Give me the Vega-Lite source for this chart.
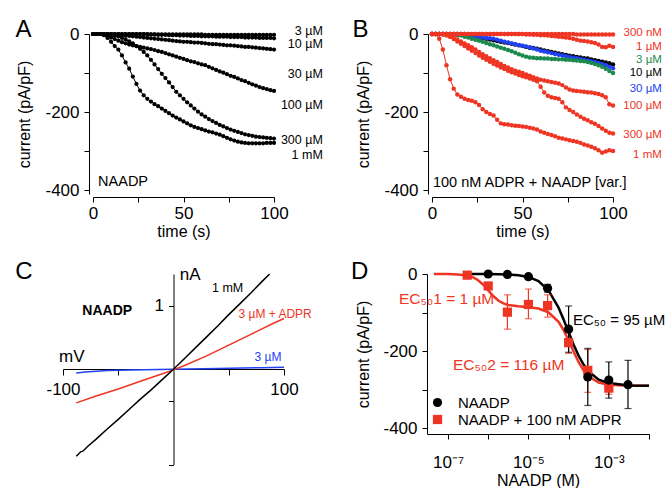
{
"$schema": "https://vega.github.io/schema/vega-lite/v6.json",
"padding": {"left": 15, "top": 18, "right": 0, "bottom": 0},
"background": "white",
"columns": 2,
"spacing": {"row": 49, "column": 142},
"bounds": "flush",
"resolve": {"scale": {"color": "independent", "shape": "independent"}, "legend": {"color": "independent", "shape": "independent"}},
"datasets": {
"a": [
{"s":"3","t":0,"v":0},{"s":"3","t":2,"v":0},{"s":"3","t":4,"v":0},{"s":"3","t":6,"v":0},{"s":"3","t":8,"v":0},{"s":"3","t":10,"v":0},{"s":"3","t":12,"v":0},{"s":"3","t":14,"v":0},{"s":"3","t":16,"v":0},{"s":"3","t":18,"v":0},{"s":"3","t":20,"v":0},{"s":"3","t":22,"v":0},{"s":"3","t":24,"v":0},{"s":"3","t":26,"v":0},{"s":"3","t":28,"v":0},{"s":"3","t":30,"v":0},{"s":"3","t":32,"v":-1},{"s":"3","t":34,"v":-1},{"s":"3","t":36,"v":-1},{"s":"3","t":38,"v":-1},{"s":"3","t":40,"v":-1},{"s":"3","t":42,"v":-1},{"s":"3","t":44,"v":-1},{"s":"3","t":46,"v":-1},{"s":"3","t":48,"v":-1},{"s":"3","t":50,"v":-1},{"s":"3","t":52,"v":-1},{"s":"3","t":54,"v":-1},{"s":"3","t":56,"v":-1},{"s":"3","t":58,"v":-1},{"s":"3","t":60,"v":-1},{"s":"3","t":62,"v":-2},{"s":"3","t":64,"v":-2},{"s":"3","t":66,"v":-2},{"s":"3","t":68,"v":-2},{"s":"3","t":70,"v":-2},{"s":"3","t":72,"v":-2},{"s":"3","t":74,"v":-2},{"s":"3","t":76,"v":-2},{"s":"3","t":78,"v":-2},{"s":"3","t":80,"v":-2},{"s":"3","t":82,"v":-2},{"s":"3","t":84,"v":-2},{"s":"3","t":86,"v":-2},{"s":"3","t":88,"v":-2},{"s":"3","t":90,"v":-2},{"s":"3","t":92,"v":-2},{"s":"3","t":94,"v":-2},{"s":"3","t":96,"v":-2},{"s":"3","t":98,"v":-2},{"s":"3","t":100,"v":-2},
{"s":"10","t":0,"v":0},{"s":"10","t":2,"v":0},{"s":"10","t":4,"v":0},{"s":"10","t":6,"v":0},{"s":"10","t":8,"v":0},{"s":"10","t":10,"v":0},{"s":"10","t":12,"v":0},{"s":"10","t":14,"v":0},{"s":"10","t":16,"v":0},{"s":"10","t":18,"v":0},{"s":"10","t":20,"v":0},{"s":"10","t":22,"v":0},{"s":"10","t":24,"v":0},{"s":"10","t":26,"v":0},{"s":"10","t":28,"v":0},{"s":"10","t":30,"v":-1},{"s":"10","t":32,"v":-1},{"s":"10","t":34,"v":-1},{"s":"10","t":36,"v":-2},{"s":"10","t":38,"v":-2},{"s":"10","t":40,"v":-2},{"s":"10","t":42,"v":-3},{"s":"10","t":44,"v":-3},{"s":"10","t":46,"v":-3},{"s":"10","t":48,"v":-4},{"s":"10","t":50,"v":-4},{"s":"10","t":52,"v":-4},{"s":"10","t":54,"v":-5},{"s":"10","t":56,"v":-5},{"s":"10","t":58,"v":-5},{"s":"10","t":60,"v":-6},{"s":"10","t":62,"v":-6},{"s":"10","t":64,"v":-6},{"s":"10","t":66,"v":-6},{"s":"10","t":68,"v":-7},{"s":"10","t":70,"v":-7},{"s":"10","t":72,"v":-7},{"s":"10","t":74,"v":-7},{"s":"10","t":76,"v":-8},{"s":"10","t":78,"v":-8},{"s":"10","t":80,"v":-8},{"s":"10","t":82,"v":-8},{"s":"10","t":84,"v":-9},{"s":"10","t":86,"v":-9},{"s":"10","t":88,"v":-9},{"s":"10","t":90,"v":-9},{"s":"10","t":92,"v":-10},{"s":"10","t":94,"v":-10},{"s":"10","t":96,"v":-10},{"s":"10","t":98,"v":-10},{"s":"10","t":100,"v":-11},
{"s":"30","t":0,"v":0},{"s":"30","t":2,"v":0},{"s":"30","t":4,"v":0},{"s":"30","t":6,"v":0},{"s":"30","t":8,"v":0},{"s":"30","t":10,"v":0},{"s":"30","t":12,"v":-1},{"s":"30","t":14,"v":-2},{"s":"30","t":16,"v":-3},{"s":"30","t":18,"v":-4},{"s":"30","t":20,"v":-5},{"s":"30","t":22,"v":-6},{"s":"30","t":24,"v":-7},{"s":"30","t":26,"v":-8},{"s":"30","t":28,"v":-9},{"s":"30","t":30,"v":-10},{"s":"30","t":32,"v":-11},{"s":"30","t":34,"v":-12},{"s":"30","t":36,"v":-13},{"s":"30","t":38,"v":-14},{"s":"30","t":40,"v":-15},{"s":"30","t":42,"v":-16},{"s":"30","t":44,"v":-17},{"s":"30","t":46,"v":-18},{"s":"30","t":48,"v":-19},{"s":"30","t":50,"v":-20},{"s":"30","t":52,"v":-20},{"s":"30","t":54,"v":-21},{"s":"30","t":56,"v":-22},{"s":"30","t":58,"v":-22},{"s":"30","t":60,"v":-23},{"s":"30","t":62,"v":-24},{"s":"30","t":64,"v":-25},{"s":"30","t":66,"v":-26},{"s":"30","t":68,"v":-26},{"s":"30","t":70,"v":-27},{"s":"30","t":72,"v":-28},{"s":"30","t":74,"v":-29},{"s":"30","t":76,"v":-29},{"s":"30","t":78,"v":-30},{"s":"30","t":80,"v":-31},{"s":"30","t":82,"v":-32},{"s":"30","t":84,"v":-33},{"s":"30","t":86,"v":-33},{"s":"30","t":88,"v":-34},{"s":"30","t":90,"v":-35},{"s":"30","t":92,"v":-36},{"s":"30","t":94,"v":-37},{"s":"30","t":96,"v":-38},{"s":"30","t":98,"v":-39},{"s":"30","t":100,"v":-40},
{"s":"100","t":0,"v":0},{"s":"100","t":2,"v":0},{"s":"100","t":4,"v":0},{"s":"100","t":6,"v":-2},{"s":"100","t":8,"v":-5},{"s":"100","t":10,"v":-9},{"s":"100","t":12,"v":-13},{"s":"100","t":14,"v":-17},{"s":"100","t":16,"v":-21},{"s":"100","t":18,"v":-24},{"s":"100","t":20,"v":-27},{"s":"100","t":22,"v":-29},{"s":"100","t":24,"v":-31},{"s":"100","t":26,"v":-33},{"s":"100","t":28,"v":-35},{"s":"100","t":30,"v":-37},{"s":"100","t":32,"v":-39},{"s":"100","t":34,"v":-41},{"s":"100","t":36,"v":-44},{"s":"100","t":38,"v":-46},{"s":"100","t":40,"v":-49},{"s":"100","t":42,"v":-52},{"s":"100","t":44,"v":-55},{"s":"100","t":46,"v":-58},{"s":"100","t":48,"v":-61},{"s":"100","t":50,"v":-64},{"s":"100","t":52,"v":-67},{"s":"100","t":54,"v":-70},{"s":"100","t":56,"v":-72},{"s":"100","t":58,"v":-75},{"s":"100","t":60,"v":-78},{"s":"100","t":62,"v":-80},{"s":"100","t":64,"v":-84},{"s":"100","t":66,"v":-88},{"s":"100","t":68,"v":-92},{"s":"100","t":70,"v":-96},{"s":"100","t":72,"v":-99},{"s":"100","t":74,"v":-103},{"s":"100","t":76,"v":-107},{"s":"100","t":78,"v":-110},{"s":"100","t":80,"v":-114},{"s":"100","t":82,"v":-118},{"s":"100","t":84,"v":-121},{"s":"100","t":86,"v":-125},{"s":"100","t":88,"v":-129},{"s":"100","t":90,"v":-132},{"s":"100","t":92,"v":-136},{"s":"100","t":94,"v":-139},{"s":"100","t":96,"v":-141},{"s":"100","t":98,"v":-144},{"s":"100","t":100,"v":-146},
{"s":"300","t":0,"v":0},{"s":"300","t":2,"v":0},{"s":"300","t":4,"v":0},{"s":"300","t":6,"v":-1},{"s":"300","t":8,"v":-2},{"s":"300","t":10,"v":-3},{"s":"300","t":12,"v":-4},{"s":"300","t":14,"v":-6},{"s":"300","t":16,"v":-10},{"s":"300","t":18,"v":-14},{"s":"300","t":20,"v":-19},{"s":"300","t":22,"v":-24},{"s":"300","t":24,"v":-31},{"s":"300","t":26,"v":-38},{"s":"300","t":28,"v":-46},{"s":"300","t":30,"v":-55},{"s":"300","t":32,"v":-66},{"s":"300","t":34,"v":-78},{"s":"300","t":36,"v":-90},{"s":"300","t":38,"v":-102},{"s":"300","t":40,"v":-113},{"s":"300","t":42,"v":-124},{"s":"300","t":44,"v":-136},{"s":"300","t":46,"v":-148},{"s":"300","t":48,"v":-157},{"s":"300","t":50,"v":-166},{"s":"300","t":52,"v":-175},{"s":"300","t":54,"v":-183},{"s":"300","t":56,"v":-191},{"s":"300","t":58,"v":-199},{"s":"300","t":60,"v":-206},{"s":"300","t":62,"v":-212},{"s":"300","t":64,"v":-218},{"s":"300","t":66,"v":-223},{"s":"300","t":68,"v":-228},{"s":"300","t":70,"v":-233},{"s":"300","t":72,"v":-237},{"s":"300","t":74,"v":-241},{"s":"300","t":76,"v":-245},{"s":"300","t":78,"v":-248},{"s":"300","t":80,"v":-251},{"s":"300","t":82,"v":-254},{"s":"300","t":84,"v":-257},{"s":"300","t":86,"v":-259},{"s":"300","t":88,"v":-261},{"s":"300","t":90,"v":-263},{"s":"300","t":92,"v":-264},{"s":"300","t":94,"v":-265},{"s":"300","t":96,"v":-266},{"s":"300","t":98,"v":-267},{"s":"300","t":100,"v":-268},
{"s":"1000","t":0,"v":0},{"s":"1000","t":2,"v":0},{"s":"1000","t":4,"v":0},{"s":"1000","t":6,"v":-3},{"s":"1000","t":8,"v":-10},{"s":"1000","t":10,"v":-20},{"s":"1000","t":12,"v":-31},{"s":"1000","t":14,"v":-40},{"s":"1000","t":16,"v":-55},{"s":"1000","t":18,"v":-73},{"s":"1000","t":20,"v":-89},{"s":"1000","t":22,"v":-109},{"s":"1000","t":24,"v":-128},{"s":"1000","t":26,"v":-145},{"s":"1000","t":28,"v":-157},{"s":"1000","t":30,"v":-166},{"s":"1000","t":32,"v":-173},{"s":"1000","t":34,"v":-180},{"s":"1000","t":36,"v":-185},{"s":"1000","t":38,"v":-191},{"s":"1000","t":40,"v":-197},{"s":"1000","t":42,"v":-203},{"s":"1000","t":44,"v":-209},{"s":"1000","t":46,"v":-214},{"s":"1000","t":48,"v":-219},{"s":"1000","t":50,"v":-224},{"s":"1000","t":52,"v":-229},{"s":"1000","t":54,"v":-234},{"s":"1000","t":56,"v":-238},{"s":"1000","t":58,"v":-241},{"s":"1000","t":60,"v":-244},{"s":"1000","t":62,"v":-247},{"s":"1000","t":64,"v":-250},{"s":"1000","t":66,"v":-252},{"s":"1000","t":68,"v":-255},{"s":"1000","t":70,"v":-258},{"s":"1000","t":72,"v":-262},{"s":"1000","t":74,"v":-266},{"s":"1000","t":76,"v":-270},{"s":"1000","t":78,"v":-273},{"s":"1000","t":80,"v":-276},{"s":"1000","t":82,"v":-278},{"s":"1000","t":84,"v":-279},{"s":"1000","t":86,"v":-280},{"s":"1000","t":88,"v":-280},{"s":"1000","t":90,"v":-280},{"s":"1000","t":92,"v":-280},{"s":"1000","t":94,"v":-280},{"s":"1000","t":96,"v":-279},{"s":"1000","t":98,"v":-279},{"s":"1000","t":100,"v":-279}
],
"b": [
{"s":"u10","t":0,"v":0},{"s":"u10","t":2,"v":0},{"s":"u10","t":4,"v":0},{"s":"u10","t":6,"v":0},{"s":"u10","t":8,"v":0},{"s":"u10","t":10,"v":0},{"s":"u10","t":12,"v":0},{"s":"u10","t":14,"v":0},{"s":"u10","t":16,"v":-1},{"s":"u10","t":18,"v":-2},{"s":"u10","t":20,"v":-3},{"s":"u10","t":22,"v":-4},{"s":"u10","t":24,"v":-6},{"s":"u10","t":26,"v":-8},{"s":"u10","t":28,"v":-10},{"s":"u10","t":30,"v":-12},{"s":"u10","t":32,"v":-14},{"s":"u10","t":34,"v":-16},{"s":"u10","t":36,"v":-18},{"s":"u10","t":38,"v":-20},{"s":"u10","t":40,"v":-22},{"s":"u10","t":42,"v":-23},{"s":"u10","t":44,"v":-25},{"s":"u10","t":46,"v":-27},{"s":"u10","t":48,"v":-29},{"s":"u10","t":50,"v":-31},{"s":"u10","t":52,"v":-33},{"s":"u10","t":54,"v":-35},{"s":"u10","t":56,"v":-36},{"s":"u10","t":58,"v":-38},{"s":"u10","t":60,"v":-40},{"s":"u10","t":62,"v":-42},{"s":"u10","t":64,"v":-44},{"s":"u10","t":66,"v":-46},{"s":"u10","t":68,"v":-48},{"s":"u10","t":70,"v":-50},{"s":"u10","t":72,"v":-52},{"s":"u10","t":74,"v":-54},{"s":"u10","t":76,"v":-56},{"s":"u10","t":78,"v":-57},{"s":"u10","t":80,"v":-59},{"s":"u10","t":82,"v":-60},{"s":"u10","t":84,"v":-62},{"s":"u10","t":86,"v":-63},{"s":"u10","t":88,"v":-65},{"s":"u10","t":90,"v":-67},{"s":"u10","t":92,"v":-69},{"s":"u10","t":94,"v":-71},{"s":"u10","t":96,"v":-73},{"s":"u10","t":98,"v":-75},{"s":"u10","t":100,"v":-78},
{"s":"u30","t":0,"v":0},{"s":"u30","t":2,"v":0},{"s":"u30","t":4,"v":0},{"s":"u30","t":6,"v":0},{"s":"u30","t":8,"v":0},{"s":"u30","t":10,"v":0},{"s":"u30","t":12,"v":0},{"s":"u30","t":14,"v":0},{"s":"u30","t":16,"v":0},{"s":"u30","t":18,"v":0},{"s":"u30","t":20,"v":-1},{"s":"u30","t":22,"v":-3},{"s":"u30","t":24,"v":-5},{"s":"u30","t":26,"v":-7},{"s":"u30","t":28,"v":-9},{"s":"u30","t":30,"v":-10},{"s":"u30","t":32,"v":-11},{"s":"u30","t":34,"v":-12},{"s":"u30","t":36,"v":-15},{"s":"u30","t":38,"v":-17},{"s":"u30","t":40,"v":-20},{"s":"u30","t":42,"v":-22},{"s":"u30","t":44,"v":-24},{"s":"u30","t":46,"v":-26},{"s":"u30","t":48,"v":-28},{"s":"u30","t":50,"v":-30},{"s":"u30","t":52,"v":-32},{"s":"u30","t":54,"v":-34},{"s":"u30","t":56,"v":-37},{"s":"u30","t":58,"v":-40},{"s":"u30","t":60,"v":-43},{"s":"u30","t":62,"v":-45},{"s":"u30","t":64,"v":-47},{"s":"u30","t":66,"v":-49},{"s":"u30","t":68,"v":-51},{"s":"u30","t":70,"v":-53},{"s":"u30","t":72,"v":-55},{"s":"u30","t":74,"v":-57},{"s":"u30","t":76,"v":-59},{"s":"u30","t":78,"v":-61},{"s":"u30","t":80,"v":-62},{"s":"u30","t":82,"v":-64},{"s":"u30","t":84,"v":-66},{"s":"u30","t":86,"v":-68},{"s":"u30","t":88,"v":-70},{"s":"u30","t":90,"v":-72},{"s":"u30","t":92,"v":-74},{"s":"u30","t":94,"v":-77},{"s":"u30","t":96,"v":-80},{"s":"u30","t":98,"v":-84},{"s":"u30","t":100,"v":-88},
{"s":"u3","t":0,"v":0},{"s":"u3","t":2,"v":0},{"s":"u3","t":4,"v":0},{"s":"u3","t":6,"v":0},{"s":"u3","t":8,"v":0},{"s":"u3","t":10,"v":-1},{"s":"u3","t":12,"v":-2},{"s":"u3","t":14,"v":-3},{"s":"u3","t":16,"v":-4},{"s":"u3","t":18,"v":-7},{"s":"u3","t":20,"v":-9},{"s":"u3","t":22,"v":-12},{"s":"u3","t":24,"v":-15},{"s":"u3","t":26,"v":-17},{"s":"u3","t":28,"v":-20},{"s":"u3","t":30,"v":-23},{"s":"u3","t":32,"v":-26},{"s":"u3","t":34,"v":-29},{"s":"u3","t":36,"v":-32},{"s":"u3","t":38,"v":-35},{"s":"u3","t":40,"v":-38},{"s":"u3","t":42,"v":-41},{"s":"u3","t":44,"v":-44},{"s":"u3","t":46,"v":-48},{"s":"u3","t":48,"v":-52},{"s":"u3","t":50,"v":-55},{"s":"u3","t":52,"v":-58},{"s":"u3","t":54,"v":-60},{"s":"u3","t":56,"v":-61},{"s":"u3","t":58,"v":-62},{"s":"u3","t":60,"v":-62},{"s":"u3","t":62,"v":-63},{"s":"u3","t":64,"v":-63},{"s":"u3","t":66,"v":-64},{"s":"u3","t":68,"v":-64},{"s":"u3","t":70,"v":-65},{"s":"u3","t":72,"v":-65},{"s":"u3","t":74,"v":-66},{"s":"u3","t":76,"v":-66},{"s":"u3","t":78,"v":-67},{"s":"u3","t":80,"v":-68},{"s":"u3","t":82,"v":-69},{"s":"u3","t":84,"v":-70},{"s":"u3","t":86,"v":-72},{"s":"u3","t":88,"v":-74},{"s":"u3","t":90,"v":-77},{"s":"u3","t":92,"v":-80},{"s":"u3","t":94,"v":-84},{"s":"u3","t":96,"v":-89},{"s":"u3","t":98,"v":-95},{"s":"u3","t":100,"v":-100},
{"s":"n300","t":0,"v":0},{"s":"n300","t":2,"v":0},{"s":"n300","t":4,"v":0},{"s":"n300","t":6,"v":0},{"s":"n300","t":8,"v":0},{"s":"n300","t":10,"v":0},{"s":"n300","t":12,"v":0},{"s":"n300","t":14,"v":0},{"s":"n300","t":16,"v":0},{"s":"n300","t":18,"v":0},{"s":"n300","t":20,"v":0},{"s":"n300","t":22,"v":0},{"s":"n300","t":24,"v":0},{"s":"n300","t":26,"v":0},{"s":"n300","t":28,"v":0},{"s":"n300","t":30,"v":0},{"s":"n300","t":32,"v":0},{"s":"n300","t":34,"v":0},{"s":"n300","t":36,"v":0},{"s":"n300","t":38,"v":0},{"s":"n300","t":40,"v":0},{"s":"n300","t":42,"v":0},{"s":"n300","t":44,"v":0},{"s":"n300","t":46,"v":0},{"s":"n300","t":48,"v":0},{"s":"n300","t":50,"v":0},{"s":"n300","t":52,"v":0},{"s":"n300","t":54,"v":0},{"s":"n300","t":56,"v":0},{"s":"n300","t":58,"v":0},{"s":"n300","t":60,"v":0},{"s":"n300","t":62,"v":0},{"s":"n300","t":64,"v":0},{"s":"n300","t":66,"v":0},{"s":"n300","t":68,"v":0},{"s":"n300","t":70,"v":0},{"s":"n300","t":72,"v":0},{"s":"n300","t":74,"v":0},{"s":"n300","t":76,"v":0},{"s":"n300","t":78,"v":0},{"s":"n300","t":80,"v":-1},{"s":"n300","t":82,"v":-1},{"s":"n300","t":84,"v":-1},{"s":"n300","t":86,"v":-1},{"s":"n300","t":88,"v":-1},{"s":"n300","t":90,"v":-1},{"s":"n300","t":92,"v":-1},{"s":"n300","t":94,"v":-1},{"s":"n300","t":96,"v":-1},{"s":"n300","t":98,"v":-1},{"s":"n300","t":100,"v":-1},
{"s":"u1","t":0,"v":0},{"s":"u1","t":2,"v":0},{"s":"u1","t":4,"v":0},{"s":"u1","t":6,"v":0},{"s":"u1","t":8,"v":0},{"s":"u1","t":10,"v":0},{"s":"u1","t":12,"v":0},{"s":"u1","t":14,"v":0},{"s":"u1","t":16,"v":0},{"s":"u1","t":18,"v":0},{"s":"u1","t":20,"v":0},{"s":"u1","t":22,"v":0},{"s":"u1","t":24,"v":0},{"s":"u1","t":26,"v":0},{"s":"u1","t":28,"v":0},{"s":"u1","t":30,"v":0},{"s":"u1","t":32,"v":0},{"s":"u1","t":34,"v":0},{"s":"u1","t":36,"v":0},{"s":"u1","t":38,"v":0},{"s":"u1","t":40,"v":0},{"s":"u1","t":42,"v":0},{"s":"u1","t":44,"v":0},{"s":"u1","t":46,"v":0},{"s":"u1","t":48,"v":0},{"s":"u1","t":50,"v":0},{"s":"u1","t":52,"v":-1},{"s":"u1","t":54,"v":-1},{"s":"u1","t":56,"v":-2},{"s":"u1","t":58,"v":-2},{"s":"u1","t":60,"v":-3},{"s":"u1","t":62,"v":-3},{"s":"u1","t":64,"v":-4},{"s":"u1","t":66,"v":-5},{"s":"u1","t":68,"v":-6},{"s":"u1","t":70,"v":-7},{"s":"u1","t":72,"v":-8},{"s":"u1","t":74,"v":-9},{"s":"u1","t":76,"v":-10},{"s":"u1","t":78,"v":-12},{"s":"u1","t":80,"v":-15},{"s":"u1","t":82,"v":-17},{"s":"u1","t":84,"v":-18},{"s":"u1","t":86,"v":-19},{"s":"u1","t":88,"v":-21},{"s":"u1","t":90,"v":-23},{"s":"u1","t":92,"v":-27},{"s":"u1","t":94,"v":-33},{"s":"u1","t":96,"v":-34},{"s":"u1","t":98,"v":-30},{"s":"u1","t":100,"v":-33},
{"s":"u100","t":0,"v":0},{"s":"u100","t":2,"v":0},{"s":"u100","t":4,"v":0},{"s":"u100","t":6,"v":0},{"s":"u100","t":8,"v":-2},{"s":"u100","t":10,"v":-5},{"s":"u100","t":12,"v":-9},{"s":"u100","t":14,"v":-14},{"s":"u100","t":16,"v":-19},{"s":"u100","t":18,"v":-24},{"s":"u100","t":20,"v":-29},{"s":"u100","t":22,"v":-34},{"s":"u100","t":24,"v":-40},{"s":"u100","t":26,"v":-46},{"s":"u100","t":28,"v":-52},{"s":"u100","t":30,"v":-57},{"s":"u100","t":32,"v":-62},{"s":"u100","t":34,"v":-67},{"s":"u100","t":36,"v":-72},{"s":"u100","t":38,"v":-77},{"s":"u100","t":40,"v":-82},{"s":"u100","t":42,"v":-86},{"s":"u100","t":44,"v":-90},{"s":"u100","t":46,"v":-94},{"s":"u100","t":48,"v":-97},{"s":"u100","t":50,"v":-100},{"s":"u100","t":52,"v":-104},{"s":"u100","t":54,"v":-107},{"s":"u100","t":56,"v":-111},{"s":"u100","t":58,"v":-114},{"s":"u100","t":60,"v":-117},{"s":"u100","t":62,"v":-119},{"s":"u100","t":64,"v":-121},{"s":"u100","t":66,"v":-123},{"s":"u100","t":68,"v":-125},{"s":"u100","t":70,"v":-127},{"s":"u100","t":72,"v":-131},{"s":"u100","t":74,"v":-137},{"s":"u100","t":76,"v":-142},{"s":"u100","t":78,"v":-145},{"s":"u100","t":80,"v":-146},{"s":"u100","t":82,"v":-147},{"s":"u100","t":84,"v":-148},{"s":"u100","t":86,"v":-149},{"s":"u100","t":88,"v":-150},{"s":"u100","t":90,"v":-152},{"s":"u100","t":92,"v":-154},{"s":"u100","t":94,"v":-157},{"s":"u100","t":96,"v":-162},{"s":"u100","t":98,"v":-180},{"s":"u100","t":100,"v":-183},
{"s":"u300","t":0,"v":0},{"s":"u300","t":2,"v":0},{"s":"u300","t":4,"v":0},{"s":"u300","t":6,"v":-1},{"s":"u300","t":8,"v":-4},{"s":"u300","t":10,"v":-8},{"s":"u300","t":12,"v":-13},{"s":"u300","t":14,"v":-19},{"s":"u300","t":16,"v":-25},{"s":"u300","t":18,"v":-31},{"s":"u300","t":20,"v":-37},{"s":"u300","t":22,"v":-43},{"s":"u300","t":24,"v":-49},{"s":"u300","t":26,"v":-55},{"s":"u300","t":28,"v":-61},{"s":"u300","t":30,"v":-66},{"s":"u300","t":32,"v":-71},{"s":"u300","t":34,"v":-76},{"s":"u300","t":36,"v":-81},{"s":"u300","t":38,"v":-86},{"s":"u300","t":40,"v":-90},{"s":"u300","t":42,"v":-94},{"s":"u300","t":44,"v":-98},{"s":"u300","t":46,"v":-101},{"s":"u300","t":48,"v":-105},{"s":"u300","t":50,"v":-108},{"s":"u300","t":52,"v":-111},{"s":"u300","t":54,"v":-114},{"s":"u300","t":56,"v":-117},{"s":"u300","t":58,"v":-121},{"s":"u300","t":60,"v":-135},{"s":"u300","t":62,"v":-150},{"s":"u300","t":64,"v":-158},{"s":"u300","t":66,"v":-162},{"s":"u300","t":68,"v":-164},{"s":"u300","t":70,"v":-166},{"s":"u300","t":72,"v":-175},{"s":"u300","t":74,"v":-188},{"s":"u300","t":76,"v":-195},{"s":"u300","t":78,"v":-200},{"s":"u300","t":80,"v":-206},{"s":"u300","t":82,"v":-212},{"s":"u300","t":84,"v":-217},{"s":"u300","t":86,"v":-221},{"s":"u300","t":88,"v":-226},{"s":"u300","t":90,"v":-230},{"s":"u300","t":92,"v":-236},{"s":"u300","t":94,"v":-242},{"s":"u300","t":96,"v":-248},{"s":"u300","t":98,"v":-253},{"s":"u300","t":100,"v":-255},
{"s":"m1","t":0,"v":0},{"s":"m1","t":2,"v":0},{"s":"m1","t":4,"v":-12},{"s":"m1","t":6,"v":-40},{"s":"m1","t":8,"v":-80},{"s":"m1","t":10,"v":-116},{"s":"m1","t":12,"v":-140},{"s":"m1","t":14,"v":-155},{"s":"m1","t":16,"v":-161},{"s":"m1","t":18,"v":-166},{"s":"m1","t":20,"v":-169},{"s":"m1","t":22,"v":-171},{"s":"m1","t":24,"v":-175},{"s":"m1","t":26,"v":-182},{"s":"m1","t":28,"v":-193},{"s":"m1","t":30,"v":-200},{"s":"m1","t":32,"v":-205},{"s":"m1","t":34,"v":-209},{"s":"m1","t":36,"v":-220},{"s":"m1","t":38,"v":-229},{"s":"m1","t":40,"v":-231},{"s":"m1","t":42,"v":-232},{"s":"m1","t":44,"v":-234},{"s":"m1","t":46,"v":-235},{"s":"m1","t":48,"v":-236},{"s":"m1","t":50,"v":-237},{"s":"m1","t":52,"v":-238},{"s":"m1","t":54,"v":-240},{"s":"m1","t":56,"v":-242},{"s":"m1","t":58,"v":-245},{"s":"m1","t":60,"v":-250},{"s":"m1","t":62,"v":-253},{"s":"m1","t":64,"v":-256},{"s":"m1","t":66,"v":-259},{"s":"m1","t":68,"v":-262},{"s":"m1","t":70,"v":-266},{"s":"m1","t":72,"v":-268},{"s":"m1","t":74,"v":-270},{"s":"m1","t":76,"v":-272},{"s":"m1","t":78,"v":-274},{"s":"m1","t":80,"v":-276},{"s":"m1","t":82,"v":-279},{"s":"m1","t":84,"v":-283},{"s":"m1","t":86,"v":-286},{"s":"m1","t":88,"v":-289},{"s":"m1","t":90,"v":-293},{"s":"m1","t":92,"v":-298},{"s":"m1","t":94,"v":-304},{"s":"m1","t":96,"v":-301},{"s":"m1","t":98,"v":-298},{"s":"m1","t":100,"v":-300}
],
"alab": [{"lab":"3 µM","v":8},{"lab":"10 µM","v":-26},{"lab":"30 µM","v":-103},{"lab":"100 µM","v":-182},{"lab":"300 µM","v":-271},{"lab":"1 mM","v":-310}],
"blab": [{"s":"n300","lab":"300 nM","v":2},{"s":"u1","lab":"1 µM","v":-34},{"s":"u3","lab":"3 µM","v":-67},{"s":"u10","lab":"10 µM","v":-100},{"s":"u30","lab":"30 µM","v":-140},{"s":"u100","lab":"100 µM","v":-185},{"s":"u300","lab":"300 µM","v":-259},{"s":"m1","lab":"1 mM","v":-310}],
"c": [
{"s":"u3","x":-88,"y":-0.06},{"s":"u3","x":-80,"y":-0.045},{"s":"u3","x":-70,"y":-0.03},{"s":"u3","x":-60,"y":-0.02},{"s":"u3","x":-40,"y":-0.01},{"s":"u3","x":0,"y":0},{"s":"u3","x":40,"y":0.012},{"s":"u3","x":80,"y":0.025},{"s":"u3","x":100,"y":0.03},
{"s":"adpr","x":-88,"y":-0.53},{"s":"adpr","x":-70,"y":-0.42},{"s":"adpr","x":-50,"y":-0.31},{"s":"adpr","x":-30,"y":-0.19},{"s":"adpr","x":-10,"y":-0.07},{"s":"adpr","x":0,"y":-0.01},{"s":"adpr","x":10,"y":0.06},{"s":"adpr","x":30,"y":0.21},{"s":"adpr","x":50,"y":0.38},{"s":"adpr","x":70,"y":0.55},{"s":"adpr","x":90,"y":0.72},{"s":"adpr","x":100,"y":0.8},
{"s":"m1","x":-88,"y":-1.37},{"s":"m1","x":-84,"y":-1.3},{"s":"m1","x":-82,"y":-1.29},{"s":"m1","x":-78,"y":-1.22},{"s":"m1","x":-70,"y":-1.1},{"s":"m1","x":-60,"y":-0.94},{"s":"m1","x":-50,"y":-0.79},{"s":"m1","x":-40,"y":-0.63},{"s":"m1","x":-30,"y":-0.47},{"s":"m1","x":-20,"y":-0.32},{"s":"m1","x":-10,"y":-0.16},{"s":"m1","x":0,"y":0},{"s":"m1","x":10,"y":0.17},{"s":"m1","x":20,"y":0.34},{"s":"m1","x":30,"y":0.51},{"s":"m1","x":40,"y":0.68},{"s":"m1","x":50,"y":0.86},{"s":"m1","x":60,"y":1.03},{"s":"m1","x":70,"y":1.2},{"s":"m1","x":80,"y":1.38},{"s":"m1","x":87,"y":1.5}
],
"dfit": [
{"s":"ADPR","c":4.467e-8,"v":0},{"s":"ADPR","c":1e-7,"v":-0.3},{"s":"ADPR","c":1.778e-7,"v":-1.1},{"s":"ADPR","c":3.162e-7,"v":-4.5},{"s":"ADPR","c":4.217e-7,"v":-8.8},{"s":"ADPR","c":5.623e-7,"v":-16.3},{"s":"ADPR","c":7.499e-7,"v":-27.8},{"s":"ADPR","c":1e-6,"v":-42.5},{"s":"ADPR","c":1.334e-6,"v":-57.1},{"s":"ADPR","c":1.778e-6,"v":-68.7},{"s":"ADPR","c":2.371e-6,"v":-76.2},{"s":"ADPR","c":3.162e-6,"v":-80.5},{"s":"ADPR","c":5.623e-6,"v":-83.9},{"s":"ADPR","c":1e-5,"v":-86.2},{"s":"ADPR","c":1.778e-5,"v":-89.7},{"s":"ADPR","c":3.162e-5,"v":-99.2},{"s":"ADPR","c":5.623e-5,"v":-124.1},{"s":"ADPR","c":7.499e-5,"v":-145.5},{"s":"ADPR","c":1e-4,"v":-172.5},{"s":"ADPR","c":1.334e-4,"v":-201.8},{"s":"ADPR","c":1.778e-4,"v":-228.9},{"s":"ADPR","c":2.371e-4,"v":-250.5},{"s":"ADPR","c":3.162e-4,"v":-265.8},{"s":"ADPR","c":5.623e-4,"v":-281.6},{"s":"ADPR","c":1e-3,"v":-287.3},{"s":"ADPR","c":3.162e-3,"v":-289.7},{"s":"ADPR","c":1e-2,"v":-290},
{"s":"NAADP","c":3.162e-7,"v":0},{"s":"NAADP","c":1e-6,"v":-0.2},{"s":"NAADP","c":3.162e-6,"v":-1.2},{"s":"NAADP","c":5.623e-6,"v":-3.1},{"s":"NAADP","c":1e-5,"v":-7.7},{"s":"NAADP","c":1.778e-5,"v":-18.6},{"s":"NAADP","c":3.162e-5,"v":-42.6},{"s":"NAADP","c":5.623e-5,"v":-87.3},{"s":"NAADP","c":7.499e-5,"v":-117.8},{"s":"NAADP","c":1e-4,"v":-150.8},{"s":"NAADP","c":1.334e-4,"v":-183.3},{"s":"NAADP","c":1.778e-4,"v":-212},{"s":"NAADP","c":2.371e-4,"v":-235.5},{"s":"NAADP","c":3.162e-4,"v":-253},{"s":"NAADP","c":5.623e-4,"v":-274},{"s":"NAADP","c":1e-3,"v":-283},{"s":"NAADP","c":3.162e-3,"v":-289},{"s":"NAADP","c":1e-2,"v":-290}
],
"dpts": [
{"s":"NAADP + 100 nM ADPR","c":3e-7,"v":-3},{"s":"NAADP + 100 nM ADPR","c":1e-6,"v":-31,"lo":-39,"hi":-23},{"s":"NAADP + 100 nM ADPR","c":3e-6,"v":-99,"lo":-143,"hi":-54},{"s":"NAADP + 100 nM ADPR","c":1e-5,"v":-79,"lo":-116,"hi":-39},{"s":"NAADP + 100 nM ADPR","c":3e-5,"v":-82,"lo":-112,"hi":-54},{"s":"NAADP + 100 nM ADPR","c":1e-4,"v":-178,"lo":-206,"hi":-150},{"s":"NAADP + 100 nM ADPR","c":3e-4,"v":-250,"lo":-307,"hi":-196},{"s":"NAADP + 100 nM ADPR","c":1e-3,"v":-296,"lo":-312,"hi":-283},
{"s":"NAADP","c":1e-6,"v":0},{"s":"NAADP","c":3e-6,"v":-1},{"s":"NAADP","c":1e-5,"v":-7},{"s":"NAADP","c":3e-5,"v":-37,"lo":-47,"hi":-27},{"s":"NAADP","c":1e-4,"v":-143,"lo":-203,"hi":-83},{"s":"NAADP","c":3e-4,"v":-267,"lo":-341,"hi":-193},{"s":"NAADP","c":1e-3,"v":-275,"lo":-322,"hi":-228},{"s":"NAADP","c":3e-3,"v":-287,"lo":-349,"hi":-224}
]
},
"concat": [
{
"width": 222, "height": 191,
"layer": [
{"data": {"name": "a"},
 "mark": {"type": "line", "color": "#000", "strokeWidth": 1, "point": {"filled": true, "size": 18, "color": "#000", "opacity": 1}},
 "encoding": {
  "x": {"field": "t", "type": "quantitative", "scale": {"domain": [0, 100], "range": [30, 211], "nice": false, "zero": false},
        "axis": {"values": [0, 25, 50, 75, 100], "labelExpr": "datum.value % 50 == 0 ? toString(datum.value) : ''", "offset": -28, "title": "time (s)", "labelPadding": 3, "titlePadding": 2}},
  "y": {"field": "v", "type": "quantitative", "scale": {"domain": [-410, 0], "range": [160, 0], "nice": false, "zero": false},
        "axis": {"values": [-400, -300, -200, -100, 0], "labelExpr": "datum.value % 200 == 0 ? toString(datum.value) : ''", "offset": -26, "title": "current (pA/pF)", "labelPadding": 5, "titlePadding": 12}},
  "detail": {"field": "s"}
 }},
{"data": {"name": "alab"},
 "mark": {"type": "text", "align": "right", "baseline": "middle", "fontSize": 12.5, "color": "#000"},
 "encoding": {"x": {"datum": 127}, "y": {"field": "v", "type": "quantitative"}, "text": {"field": "lab"}}},
{"data": {"values": [{}]},
 "mark": {"type": "text", "text": "NAADP", "align": "left", "baseline": "middle", "fontSize": 14.5, "color": "#000"},
 "encoding": {"x": {"datum": 2.8}, "y": {"datum": -380}}},
{"data": {"values": [{}]},
 "mark": {"type": "text", "text": "A", "align": "center", "baseline": "alphabetic", "fontSize": 24, "color": "#000"},
 "encoding": {"x": {"datum": -38.4}, "y": {"datum": -7.7}}}
]
},
{
"width": 222, "height": 191,
"layer": [
{"data": {"name": "b"},
 "mark": {"type": "line", "strokeWidth": 1, "point": {"filled": true, "size": 20, "opacity": 1}},
 "encoding": {
  "x": {"field": "t", "type": "quantitative", "scale": {"domain": [0, 100], "range": [5, 186], "nice": false, "zero": false},
        "axis": {"values": [0, 25, 50, 75, 100], "labelExpr": "datum.value % 50 == 0 ? toString(datum.value) : ''", "offset": -28, "title": "time (s)", "labelPadding": 3, "titlePadding": 2}},
  "y": {"field": "v", "type": "quantitative", "scale": {"domain": [-410, 0], "range": [160, 0], "nice": false, "zero": false},
        "axis": {"values": [-400, -300, -200, -100, 0], "labelExpr": "datum.value % 200 == 0 ? toString(datum.value) : ''", "offset": -1, "title": "current (pA/pF)", "labelPadding": 5, "titlePadding": 12}},
  "color": {"field": "s", "type": "nominal", "scale": {"domain": ["u10", "u30", "u3", "n300", "u1", "u100", "u300", "m1"], "range": ["#000000", "#2141f5", "#1b8a4c", "#ee3524", "#ee3524", "#ee3524", "#ee3524", "#ee3524"]}, "legend": null}
 }},
{"data": {"name": "blab"},
 "mark": {"type": "text", "align": "right", "baseline": "middle", "fontSize": 11.5},
 "encoding": {"x": {"datum": 127}, "y": {"field": "v", "type": "quantitative"}, "text": {"field": "lab"},
  "color": {"field": "s", "type": "nominal", "scale": {"domain": ["u10", "u30", "u3", "n300", "u1", "u100", "u300", "m1"], "range": ["#000000", "#2141f5", "#1b8a4c", "#ee3524", "#ee3524", "#ee3524", "#ee3524", "#ee3524"]}, "legend": null}}},
{"data": {"values": [{}]},
 "mark": {"type": "text", "text": "100 nM ADPR + NAADP [var.]", "align": "left", "baseline": "middle", "fontSize": 14.5, "color": "#000"},
 "encoding": {"x": {"datum": 0.5}, "y": {"datum": -382}}},
{"data": {"values": [{}]},
 "mark": {"type": "text", "text": "B", "align": "center", "baseline": "alphabetic", "fontSize": 24, "color": "#000"},
 "encoding": {"x": {"datum": -39.5}, "y": {"datum": -7.7}}}
]
},
{
"width": 222, "height": 191,
"layer": [
{"data": {"name": "c"},
 "mark": {"type": "line", "strokeWidth": 1.5},
 "encoding": {
  "x": {"field": "x", "type": "quantitative", "scale": {"domain": [-100, 100], "range": [0, 221], "nice": false, "zero": false},
        "axis": {"values": [-100, -50, 50, 100], "labelExpr": "abs(datum.value) == 100 ? toString(datum.value) : ''", "offset": -96, "title": null, "tickSize": 6, "labelPadding": 6}},
  "y": {"field": "y", "type": "quantitative", "scale": {"domain": [-1.5, 1.5], "range": [190.5, 0], "nice": false, "zero": false},
        "axis": {"values": [-1.5, -1, -0.5, 0.5, 1, 1.5], "labelExpr": "abs(datum.value) == 1 ? toString(datum.value) : ''", "offset": -110.5, "title": null, "labelPadding": 5}},
  "color": {"field": "s", "type": "nominal", "scale": {"domain": ["u3", "adpr", "m1"], "range": ["#2141f5", "#ee3524", "#000000"]}, "legend": null}
 }},
{"data": {"values": [{}]}, "mark": {"type": "text", "text": "1 mM", "align": "center", "baseline": "middle", "fontSize": 12.5, "color": "#000"}, "encoding": {"x": {"datum": 49}, "y": {"datum": 1.28}}},
{"data": {"values": [{}]}, "mark": {"type": "text", "text": "3 µM + ADPR", "align": "center", "baseline": "middle", "fontSize": 12, "color": "#ee3524"}, "encoding": {"x": {"datum": 92}, "y": {"datum": 0.87}}},
{"data": {"values": [{}]}, "mark": {"type": "text", "text": "3 µM", "align": "center", "baseline": "middle", "fontSize": 12, "color": "#2141f5"}, "encoding": {"x": {"datum": 85.5}, "y": {"datum": 0.19}}},
{"data": {"values": [{}]}, "mark": {"type": "text", "text": "NAADP", "align": "center", "baseline": "middle", "fontSize": 14, "fontWeight": "bold", "color": "#000"}, "encoding": {"x": {"datum": -60}, "y": {"datum": 0.91}}},
{"data": {"values": [{}]}, "mark": {"type": "text", "text": "nA", "align": "center", "baseline": "middle", "fontSize": 17, "color": "#000"}, "encoding": {"x": {"datum": 15}, "y": {"datum": 1.49}}},
{"data": {"values": [{}]}, "mark": {"type": "text", "text": "mV", "align": "center", "baseline": "middle", "fontSize": 17, "color": "#000"}, "encoding": {"x": {"datum": -92}, "y": {"datum": 0.19}}},
{"data": {"values": [{}]}, "mark": {"type": "text", "text": "C", "align": "center", "baseline": "alphabetic", "fontSize": 24, "color": "#000"}, "encoding": {"x": {"datum": -135.3}, "y": {"datum": 1.417}}}
]
},
{
"width": 222, "height": 191,
"layer": [
{"data": {"name": "dfit"}, "transform": [{"filter": "datum.s == 'ADPR'"}],
 "mark": {"type": "line", "color": "#ee3524", "strokeWidth": 2.5},
 "encoding": {
  "x": {"field": "c", "type": "quantitative", "title": "NAADP (M)", "scale": {"type": "log", "domain": [3e-8, 1e-2], "range": [0, 222], "nice": false},
       "axis": {"values": [1e-7, 1e-6, 1e-5, 1e-4, 1e-3, 1e-2], "labelExpr": "round(log(datum.value)/LN10) == -7 ? '10⁻⁷' : round(log(datum.value)/LN10) == -5 ? '10⁻⁵' : round(log(datum.value)/LN10) == -3 ? '10⁻³' : ''", "offset": -31, "title": "NAADP (M)", "labelPadding": 15, "titlePadding": 2}},
  "y": {"field": "v", "type": "quantitative", "title": "current (pA/pF)", "scale": {"domain": [-415, 0], "range": [160, 0], "nice": false, "zero": false},
   "axis": {"values": [-400, -300, -200, -100, 0], "labelExpr": "datum.value % 200 == 0 ? toString(datum.value) : ''", "offset": 0, "title": "current (pA/pF)", "labelPadding": 5, "titlePadding": 11}}}},
{"data": {"name": "dfit"}, "transform": [{"filter": "datum.s == 'NAADP'"}],
 "mark": {"type": "line", "color": "#000", "strokeWidth": 2.5},
 "encoding": {"x": {"field": "c", "type": "quantitative", "title": "NAADP (M)"}, "y": {"field": "v", "type": "quantitative", "title": "current (pA/pF)"}}},
{"data": {"name": "dpts"}, "transform": [{"filter": "datum.s == 'NAADP + 100 nM ADPR' && isValid(datum.lo)"}],
 "mark": {"type": "errorbar", "ticks": true, "size": 7, "thickness": 1.2, "color": "#ee3524"},
 "encoding": {"x": {"field": "c", "type": "quantitative", "title": "NAADP (M)"}, "y": {"field": "lo", "type": "quantitative", "title": "current (pA/pF)"}, "y2": {"field": "hi"}}},
{"data": {"name": "dpts"}, "transform": [{"filter": "datum.s == 'NAADP' && isValid(datum.lo)"}],
 "mark": {"type": "errorbar", "ticks": true, "size": 7, "thickness": 1.2, "color": "#000"},
 "encoding": {"x": {"field": "c", "type": "quantitative", "title": "NAADP (M)"}, "y": {"field": "lo", "type": "quantitative", "title": "current (pA/pF)"}, "y2": {"field": "hi"}}},
{"data": {"name": "dpts"},
 "mark": {"type": "point", "filled": true, "size": 85, "opacity": 1},
 "encoding": {
  "x": {"field": "c", "type": "quantitative", "title": "NAADP (M)"},
  "y": {"field": "v", "type": "quantitative", "title": "current (pA/pF)"},
  "color": {"field": "s", "type": "nominal", "scale": {"domain": ["NAADP", "NAADP + 100 nM ADPR"], "range": ["#000000", "#ee3524"]},
            "legend": {"title": null, "orient": "none", "legendX": 3, "legendY": 121, "labelFontSize": 15, "labelLimit": 0, "symbolSize": 85, "rowPadding": 1, "labelOffset": 13, "padding": 0}},
  "shape": {"field": "s", "type": "nominal", "scale": {"domain": ["NAADP", "NAADP + 100 nM ADPR"], "range": ["circle", "square"]},
            "legend": {"title": null, "orient": "none", "legendX": 3, "legendY": 121, "labelFontSize": 15, "labelLimit": 0, "symbolSize": 85, "rowPadding": 1, "labelOffset": 13, "padding": 0}}
 }},
{"data": {"values": [{}]}, "mark": {"type": "text", "text": "EC₅₀ = 95 µM", "align": "left", "baseline": "middle", "fontSize": 15, "color": "#000"}, "encoding": {"x": {"datum": 1.285e-4, "type": "quantitative"}, "y": {"datum": -120, "type": "quantitative"}}},
{"data": {"values": [{}]}, "mark": {"type": "text", "text": "EC₅₀1 = 1 µM", "align": "left", "baseline": "middle", "fontSize": 15.5, "color": "#ee3524"}, "encoding": {"x": {"datum": 6.03e-9, "type": "quantitative"}, "y": {"datum": -65.6, "type": "quantitative"}}},
{"data": {"values": [{}]}, "mark": {"type": "text", "text": "EC₅₀2 = 116 µM", "align": "left", "baseline": "middle", "fontSize": 15.5, "color": "#ee3524"}, "encoding": {"x": {"datum": 1.33e-7, "type": "quantitative"}, "y": {"datum": -236.6, "type": "quantitative"}}},
{"data": {"values": [{}]}, "mark": {"type": "text", "text": "D", "align": "center", "baseline": "alphabetic", "fontSize": 24, "color": "#000"}, "encoding": {"x": {"datum": 6.38e-10, "type": "quantitative"}, "y": {"datum": -13, "type": "quantitative"}}}
]
}
],
"config": {
 "view": {"stroke": null},
 "font": "Liberation Sans",
 "text": {"font": "Liberation Sans"},
 "style": {"guide-title": {"fontWeight": "normal", "font": "Liberation Sans"}},
 "axis": {"grid": false, "domainColor": "#000", "domainWidth": 1, "tickColor": "#000", "tickWidth": 1, "tickSize": 5, "labelColor": "#000", "labelFont": "Liberation Sans", "labelFontSize": 17, "labelFlush": false, "labelOverlap": false, "labelBound": false, "titleFont": "Liberation Sans", "titleFontSize": 16, "titleFontWeight": "normal", "titleColor": "#000"},
 "legend": {"labelFont": "Liberation Sans", "labelColor": "#000", "symbolStrokeWidth": 0}
}
}
